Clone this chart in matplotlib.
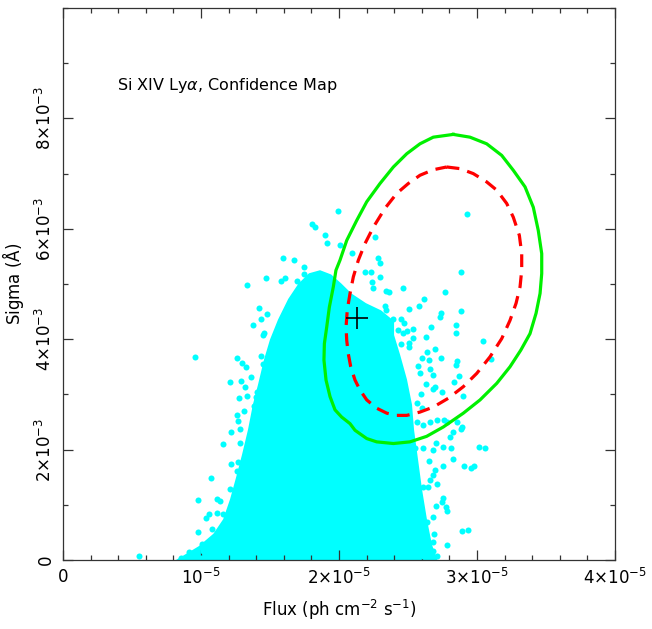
import matplotlib
matplotlib.use("Agg")
import matplotlib.pyplot as plt
from matplotlib.patches import Polygon
from matplotlib.ticker import FixedLocator, FixedFormatter, MultipleLocator

plt.rcParams['font.family'] = ['DejaVu Sans']
plt.rcParams['mathtext.fontset'] = 'dejavusans'

# ---- data (flux in units of 1e-5, sigma in units of 1e-3) ----
# dense core of the Monte-Carlo cloud (outline)
core_flux = [0.848, 0.993, 1.101, 1.174, 1.225, 1.268, 1.312, 1.355, 1.391, 1.428,
             1.471, 1.514, 1.572, 1.645, 1.717, 1.790, 1.862, 1.935, 2.007, 2.080,
             2.188, 2.297, 2.384, 2.384, 2.428, 2.478, 2.514, 2.529, 2.558, 2.587,
             2.623, 2.659, 2.696]
core_sigma = [0.00, 0.22, 0.45, 0.72, 1.09, 1.48, 1.90, 2.35, 2.81, 3.17,
              3.62, 3.98, 4.34, 4.71, 4.98, 5.16, 5.21, 5.14, 4.98, 4.80,
              4.62, 4.49, 4.31, 4.07, 3.71, 3.26, 2.81, 2.35, 1.81, 1.27,
              0.72, 0.27, 0.00]

# individual simulated points around the core
pts_flux = [1.471, 1.333, 1.420, 1.478, 1.435, 1.377, 1.449, 0.957, 1.261, 1.297,
            1.326, 1.435, 1.449, 1.210, 1.290, 1.319, 1.362, 1.406, 1.275, 1.333,
            1.399, 1.384, 1.312, 1.261, 1.268, 1.391, 1.217, 1.283, 1.159, 1.283,
            1.217, 1.268, 1.261, 1.072, 1.210, 1.254, 1.254, 0.978, 1.116, 1.138,
            1.058, 1.036, 1.116, 1.159, 0.978, 1.080, 1.043, 1.007, 1.014, 1.043,
            0.913, 0.551, 0.855, 0.942, 1.000, 1.130, 1.188, 1.594, 1.674, 1.804,
            1.826, 1.993, 1.899, 1.913, 2.007, 2.261, 2.094, 2.283, 2.297, 1.746,
            1.746, 1.580, 1.609, 1.696, 2.188, 2.232, 2.239, 2.246, 2.297, 2.341,
            2.362, 2.464, 2.616, 2.580, 2.507, 2.333, 2.341, 2.739, 2.732, 2.768,
            2.884, 2.928, 2.884, 2.848, 2.848, 2.667, 2.630, 2.493, 2.449, 2.471,
            2.391, 2.536, 2.428, 2.464, 2.449, 2.507, 2.638, 2.696, 2.739, 2.601,
            2.572, 2.659, 2.587, 2.855, 2.848, 2.746, 2.833, 2.681, 2.630, 2.594,
            3.043, 3.101, 2.870, 2.899, 2.565, 2.601, 2.565, 2.609, 2.659, 2.710,
            2.783, 2.804, 2.884, 2.703, 2.754, 2.812, 2.681, 2.551, 2.609, 3.014,
            3.058, 2.826, 2.754, 2.652, 2.696, 2.906, 2.957, 2.978, 2.659, 2.681,
            2.609, 2.645, 2.710, 2.754, 2.746, 2.703, 2.775, 2.783, 2.681, 2.638,
            2.891, 2.935, 2.783, 2.681, 2.688, 2.609, 2.681, 2.565, 2.623, 2.587,
            2.536, 2.565, 2.500, 2.529, 2.507, 2.536, 2.652, 2.681, 2.696, 2.761,
            2.855, 2.891, 2.826, 1.457, 2.710, 2.623]
pts_sigma = [5.10, 4.98, 4.56, 4.45, 4.36, 4.25, 4.07, 3.67, 3.66, 3.57,
             3.49, 3.69, 3.55, 3.22, 3.24, 3.13, 3.31, 3.04, 2.93, 2.97,
             2.95, 2.79, 2.70, 2.62, 2.52, 2.55, 2.32, 2.37, 2.10, 2.12,
             1.74, 1.77, 1.61, 1.48, 1.29, 1.29, 1.18, 1.09, 1.10, 1.07,
             0.83, 0.76, 0.85, 0.83, 0.51, 0.56, 0.31, 0.29, 0.16, 0.16,
             0.14, 0.07, 0.04, 0.04, 0.04, 0.51, 0.67, 5.47, 5.43, 6.08,
             6.03, 6.32, 5.88, 5.74, 5.70, 5.86, 5.56, 5.47, 5.38, 5.30,
             5.19, 5.05, 5.10, 5.05, 5.21, 5.21, 5.03, 4.92, 5.12, 4.87,
             4.85, 4.92, 4.72, 4.60, 4.54, 4.60, 4.53, 4.47, 4.40, 4.85,
             5.21, 6.26, 4.51, 4.25, 4.11, 4.22, 4.04, 4.14, 4.36, 4.29,
             4.36, 4.18, 4.16, 4.11, 3.91, 3.93, 3.76, 3.82, 3.66, 3.66,
             3.51, 3.46, 3.38, 3.60, 3.53, 3.04, 3.22, 3.10, 3.19, 3.00,
             3.96, 3.64, 3.33, 2.97, 2.84, 2.75, 2.50, 2.44, 2.50, 2.53,
             2.50, 2.23, 2.37, 2.12, 2.05, 2.03, 1.99, 2.03, 2.03, 2.05,
             2.03, 1.83, 1.70, 1.79, 1.63, 1.70, 1.67, 1.70, 1.45, 1.54,
             1.32, 1.32, 1.38, 1.12, 1.05, 0.98, 0.96, 0.89, 0.78, 0.69,
             0.52, 0.54, 0.27, 0.33, 0.47, 0.07, 0.16, 0.54, 0.42, 0.27,
             0.96, 0.78, 1.27, 1.57, 3.86, 4.02, 3.62, 3.35, 3.13, 2.53,
             2.50, 2.41, 2.32, 4.11, 0.07, 0.09]

# confidence contours
green_flux = [2.828, 2.949, 3.070, 3.179, 3.263, 3.348, 3.408, 3.444, 3.469, 3.469,
              3.457, 3.428, 3.384, 3.317, 3.239, 3.143, 3.022, 2.901, 2.756, 2.635,
              2.514, 2.394, 2.273, 2.201, 2.116, 2.080, 2.019, 1.971, 1.935, 1.906,
              1.891, 1.894, 1.911, 1.930, 1.959, 1.978, 2.007, 2.056, 2.128, 2.201,
              2.297, 2.394, 2.491, 2.587, 2.683, 2.828]
green_sigma = [7.71, 7.66, 7.54, 7.33, 7.06, 6.76, 6.39, 5.97, 5.55, 5.19,
               4.83, 4.47, 4.10, 3.80, 3.50, 3.20, 2.90, 2.66, 2.41, 2.24,
               2.14, 2.11, 2.14, 2.20, 2.35, 2.47, 2.59, 2.72, 2.96, 3.26,
               3.62, 3.92, 4.22, 4.58, 4.95, 5.25, 5.43, 5.79, 6.15, 6.49,
               6.82, 7.12, 7.36, 7.54, 7.66, 7.71]
red_flux = [2.780, 2.877, 2.973, 3.070, 3.143, 3.215, 3.263, 3.307, 3.324, 3.324,
            3.312, 3.283, 3.239, 3.179, 3.094, 2.998, 2.901, 2.792, 2.683, 2.587,
            2.491, 2.418, 2.346, 2.273, 2.201, 2.152, 2.116, 2.085, 2.067, 2.056,
            2.051, 2.060, 2.080, 2.104, 2.140, 2.188, 2.249, 2.333, 2.418, 2.502,
            2.587, 2.683, 2.780]
red_sigma = [7.12, 7.09, 7.00, 6.85, 6.70, 6.46, 6.21, 5.88, 5.55, 5.25,
             4.95, 4.65, 4.34, 4.01, 3.68, 3.38, 3.14, 2.93, 2.77, 2.68,
             2.62, 2.62, 2.66, 2.75, 2.90, 3.08, 3.26, 3.50, 3.74, 3.98,
             4.22, 4.53, 4.83, 5.13, 5.43, 5.73, 6.03, 6.37, 6.64, 6.82,
             6.97, 7.07, 7.12]

best_flux = 2.130
best_sigma = 4.38

xtick_vals = [0, 1, 2, 3, 4]
xtick_labels = ['0', r'$10^{-5}$', r'$2{\times}10^{-5}$', r'$3{\times}10^{-5}$', r'$4{\times}10^{-5}$']
ytick_vals = [0, 2, 4, 6, 8]
ytick_labels = ['0', r'$2{\times}10^{-3}$', r'$4{\times}10^{-3}$', r'$6{\times}10^{-3}$', r'$8{\times}10^{-3}$']

XS, YS = 1e-5, 1e-3

fig = plt.figure(figsize=(6.52, 6.29), dpi=100)
ax = fig.add_axes([63/652, 69/629, 552/652, 552/629])

cyan = '#00FFFF'
ax.add_patch(Polygon([(f*XS, s*YS) for f, s in zip(core_flux, core_sigma)],
                     closed=True, facecolor=cyan, edgecolor=cyan, lw=3, zorder=1))
ax.scatter([f*XS for f in pts_flux], [s*YS for s in pts_sigma], s=19, c=cyan,
           linewidths=0, zorder=2)

ax.plot([f*XS for f in green_flux], [s*YS for s in green_sigma], color='#00F000',
        lw=2.3, solid_joinstyle='round', zorder=3)
ax.plot([f*XS for f in red_flux], [s*YS for s in red_sigma], color='#FF0000',
        lw=2.3, dashes=(4, 2.6), zorder=4)
ax.plot([best_flux*XS], [best_sigma*YS], marker='+', ms=16, mew=1.2, color='black',
        zorder=5)

ax.set_xlim(0, 4*XS)
ax.set_ylim(0, 10*YS)

ax.xaxis.set_major_locator(FixedLocator([v*XS for v in xtick_vals]))
ax.xaxis.set_major_formatter(FixedFormatter(xtick_labels))
ax.xaxis.set_minor_locator(MultipleLocator(0.2*XS))
ax.yaxis.set_major_locator(FixedLocator([v*YS for v in ytick_vals]))
ax.yaxis.set_major_formatter(FixedFormatter(ytick_labels))
ax.yaxis.set_minor_locator(MultipleLocator(1*YS))

ax.tick_params(which='both', direction='in', top=True, right=True, color='#333333')
ax.tick_params(which='major', length=7, width=0.9, labelsize=12, pad=6)
ax.tick_params(which='minor', length=3.3, width=0.9)
for lab in ax.get_yticklabels():
    lab.set_rotation(90)
    lab.set_va('center')
for sp in ax.spines.values():
    sp.set_linewidth(0.9)
    sp.set_color('#333333')

ax.set_xlabel(r'Flux (ph cm$^{-2}$ s$^{-1}$)', fontsize=12, labelpad=7)
ax.set_ylabel(r'Sigma ($\mathrm{\AA}$)', fontsize=12, labelpad=6)
ax.text(0.098, 0.86, r'Si XIV Ly$\alpha$, Confidence Map', transform=ax.transAxes,
        fontsize=11.5, va='center', ha='left')

fig.savefig('out.png', dpi=100)
